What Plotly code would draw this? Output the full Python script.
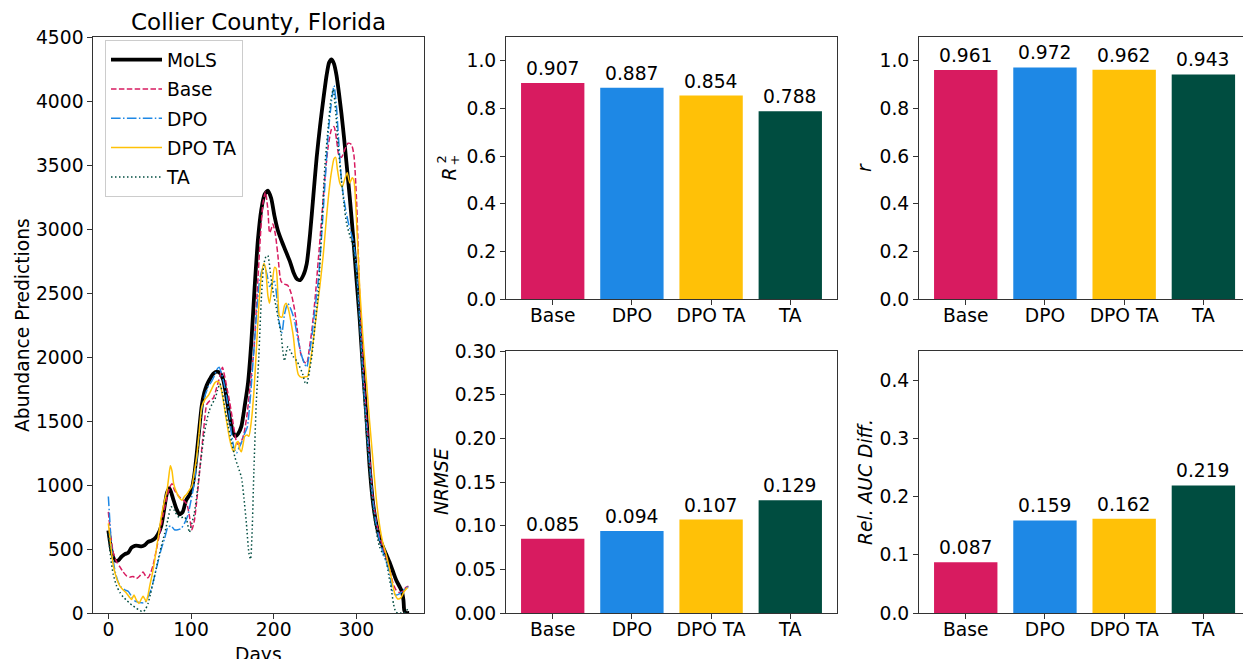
import plotly.graph_objects as go

W, H = 1243, 659
FONT = "DejaVu Sans"
FS = 18.7

# ---- Daily abundance predictions, Collier County ----
mols_days = [0, 4, 8, 12, 16, 20, 24, 28, 32, 36, 40, 44, 48, 52, 56, 60, 64, 68, 71, 74, 78, 82, 86, 90,
             94, 98, 101, 104, 107, 110, 113, 116, 119, 123, 127, 131, 135, 139, 143, 147, 151, 154, 157,
             161, 165, 169, 173, 177, 181, 185, 189, 193, 197, 201, 205, 210, 215, 220, 224, 228, 232, 236,
             240, 244, 248, 252, 256, 260, 264, 267, 270, 273, 276, 279, 282, 285, 288, 292, 296, 300, 304,
             308, 312, 316, 320, 324, 328, 332, 336, 340, 344, 348, 352, 355, 357, 358, 360, 364]
mols_vals = [645, 480, 410, 410, 440, 460, 470, 510, 525, 525, 520, 530, 555, 565, 580, 615, 680, 830, 940,
             975, 900, 820, 770, 790, 880, 920, 970, 1080, 1250, 1440, 1620, 1720, 1780, 1830, 1870, 1885,
             1875, 1820, 1680, 1520, 1410, 1380, 1400, 1460, 1620, 1800, 2120, 2550, 2920, 3150, 3270, 3300,
             3240, 3100, 2990, 2900, 2820, 2740, 2660, 2610, 2600, 2640, 2730, 2960, 3260, 3560, 3800, 4010,
             4200, 4300, 4325, 4290, 4200, 4060, 3900, 3720, 3520, 3250, 2950, 2620, 2300, 1900, 1550, 1150,
             870, 700, 590, 520, 460, 400, 330, 260, 210, 170, 100, 20, 0, 0]

base_days = [0, 3, 6, 10, 14, 18, 22, 26, 30, 34, 38, 42, 45, 48, 51, 54, 58, 62, 66, 70, 74, 77, 80, 83, 87,
             91, 95, 98, 101, 104, 107, 110, 113, 116, 119, 123, 127, 131, 135, 138, 141, 144, 147, 150, 153,
             156, 160, 164, 168, 172, 176, 180, 184, 187, 190, 193, 195, 197, 199, 202, 205, 209, 213, 217,
             221, 225, 229, 233, 237, 240, 243, 246, 250, 254, 258, 262, 266, 270, 273, 276, 279, 282, 286,
             290, 294, 297, 300, 304, 308, 312, 316, 320, 324, 328, 332, 336, 340, 344, 348, 352, 356, 360, 363]
base_vals = [790, 600, 470, 400, 360, 320, 290, 280, 285, 270, 290, 320, 290, 275, 310, 370, 490, 620, 760,
             880, 980, 1010, 960, 930, 900, 880, 850, 760, 650, 720, 880, 1080, 1280, 1480, 1630, 1660, 1680,
             1760, 1850, 1920, 1840, 1740, 1640, 1520, 1400, 1320, 1330, 1400, 1560, 1800, 2050, 2500, 2950,
             3200, 3290, 3150, 2970, 3000, 3040, 2960, 2800, 2590, 2570, 2560, 2500, 2380, 2190, 2020, 1960,
             1950, 2060, 2200, 2450, 2760, 3080, 3400, 3650, 3780, 3800, 3700, 3570, 3560, 3620, 3670, 3660,
             3580, 3260, 2500, 1950, 1550, 1220, 900, 720, 600, 520, 440, 350, 240, 180, 160, 170, 200, 210]

dpo_days = [0, 2, 4, 8, 12, 16, 20, 24, 28, 32, 36, 40, 44, 48, 52, 56, 60, 64, 68, 72, 76, 80, 84, 88, 92,
            96, 100, 104, 107, 110, 113, 117, 121, 125, 128, 131, 134, 137, 140, 143, 146, 149, 152, 155, 158,
            161, 164, 168, 172, 176, 180, 183, 186, 189, 192, 195, 198, 201, 204, 207, 210, 213, 217, 221,
            225, 229, 233, 237, 240, 243, 246, 250, 254, 258, 262, 266, 270, 273, 276, 279, 282, 285, 288,
            291, 294, 297, 300, 304, 308, 312, 316, 320, 324, 328, 332, 336, 340, 344, 348, 352, 356, 360, 363]
dpo_vals = [910, 700, 500, 330, 240, 200, 180, 170, 130, 95, 85, 80, 80, 125, 190, 290, 400, 500, 580, 670,
            680, 650, 650, 660, 700, 760, 880, 1020, 1200, 1400, 1590, 1700, 1770, 1810, 1850, 1900, 1920,
            1870, 1790, 1690, 1560, 1400, 1290, 1250, 1290, 1330, 1390, 1450, 1700, 2050, 2400, 2600, 2680,
            2710, 2640, 2550, 2580, 2590, 2450, 2260, 2190, 2330, 2420, 2370, 2290, 2150, 2030, 1950, 1920,
            2020, 2150, 2380, 2600, 2950, 3350, 3750, 4000, 4120, 3950, 3650, 3380, 3230, 3120, 3030, 2960,
            2880, 2700, 2300, 1850, 1480, 1160, 880, 690, 570, 480, 400, 320, 170, 140, 150, 170, 200, 200]

dpota_days = [0, 3, 6, 10, 14, 18, 22, 26, 28, 31, 34, 37, 40, 42, 44, 46, 48, 50, 53, 56, 60, 64, 68, 71,
              73, 75, 77, 79, 82, 86, 89, 92, 95, 98, 101, 104, 107, 110, 113, 117, 121, 125, 129, 132, 135,
              138, 141, 144, 147, 150, 152, 155, 157, 159, 161, 163, 165, 168, 170, 173, 176, 179, 182, 185,
              188, 190, 193, 195, 198, 201, 203, 205, 207, 210, 213, 215, 218, 221, 224, 227, 230, 234, 238,
              241, 244, 248, 252, 256, 260, 264, 267, 270, 273, 275, 277, 280, 283, 286, 289, 292, 295, 297,
              300, 304, 308, 312, 316, 320, 324, 328, 332, 336, 340, 344, 347, 350, 354, 358, 362]
dpota_vals = [700, 520, 370, 270, 210, 180, 155, 120, 105, 140, 100, 75, 110, 130, 110, 90, 140, 210, 300,
              410, 580, 750, 880, 960, 1060, 1150, 1110, 1010, 950, 900, 880, 910, 930, 960, 990, 1100, 1230,
              1420, 1610, 1670, 1700, 1750, 1800, 1810, 1790, 1700, 1580, 1460, 1350, 1280, 1260, 1330, 1340,
              1280, 1260, 1320, 1380, 1390, 1380, 1500, 1720, 2050, 2400, 2630, 2730, 2700, 2480, 2420, 2560,
              2700, 2690, 2500, 2320, 2310, 2400, 2420, 2370, 2270, 2150, 1960, 1860, 1840, 1845, 1850, 1950,
              2130, 2350, 2560, 2800, 3100, 3300, 3450, 3550, 3560, 3470, 3360, 3330, 3390, 3440, 3360, 3400,
              3380, 3100, 2550, 2150, 1830, 1500, 1200, 900, 690, 550, 460, 350, 220, 140, 110, 120, 170, 200]

ta_days = [0, 3, 6, 10, 14, 18, 22, 26, 30, 34, 38, 42, 45, 48, 51, 54, 57, 60, 64, 68, 72, 76, 80, 84, 88,
           92, 95, 98, 101, 104, 107, 110, 113, 116, 119, 122, 126, 129, 132, 135, 138, 141, 145, 149, 153,
           157, 161, 164, 167, 170, 172, 174, 176, 179, 182, 185, 188, 191, 193, 196, 199, 203, 206, 209, 211,
           213, 215, 217, 220, 224, 228, 231, 235, 238, 240, 243, 246, 250, 254, 258, 262, 266, 269, 272, 275,
           278, 282, 285, 288, 292, 296, 300, 304, 308, 312, 316, 320, 324, 328, 332, 336, 339, 342, 345, 348,
           352, 358, 363]
ta_vals = [620, 420, 300, 210, 160, 125, 100, 75, 55, 37, 20, 10, 30, 75, 150, 235, 320, 410, 520, 620, 730,
           830, 800, 755, 745, 750, 720, 630, 700, 780, 920, 1090, 1250, 1400, 1500, 1580, 1640, 1670, 1740,
           1790, 1720, 1600, 1460, 1340, 1220, 1140, 1060, 900, 700, 470, 420, 650, 1100, 1650, 2000, 2450,
           2720, 2790, 2790, 2660, 2520, 2390, 2280, 2180, 2050, 1970, 2030, 2080, 2050, 2000, 1970, 1930,
           1870, 1800, 1790, 1880, 2000, 2250, 2500, 3000, 3500, 3800, 4000, 4090, 3920, 3650, 3380, 3200,
           3050, 2950, 2860, 2650, 2250, 1800, 1420, 1100, 820, 640, 520, 460, 410, 300, 200, 70, 5, 0, 0, 40]

# ---- Summary metrics per model ----
models = ["Base", "DPO", "DPO TA", "TA"]
colors = ["#D81B60", "#1E88E5", "#FFC107", "#004D40"]
r2_plus = [0.907, 0.887, 0.854, 0.788]
pearson_r = [0.961, 0.972, 0.962, 0.943]
nrmse = [0.085, 0.094, 0.107, 0.129]
rel_auc_diff = [0.087, 0.159, 0.162, 0.219]


def px_x(p):
    return p / W


def px_y(p):
    return 1 - p / H


fig = go.Figure()

# Line panel
line_series = [
    ("MoLS", mols_days, mols_vals, "black", 3.8, "solid"),
    ("Base", base_days, base_vals, colors[0], 1.5, "5.5px,2.4px"),
    ("DPO", dpo_days, dpo_vals, colors[1], 1.5, "9.6px,2.4px,1.5px,2.4px"),
    ("DPO TA", dpota_days, dpota_vals, colors[2], 1.5, "solid"),
    ("TA", ta_days, ta_vals, colors[3], 1.5, "1.5px,2.5px"),
]
for name, xs, ys, col, lw, dash in line_series:
    fig.add_trace(go.Scatter(
        x=xs, y=ys, mode="lines", name=name, legendgroup=name,
        line=dict(color=col, width=lw, dash=dash, shape="spline", smoothing=0.6),
        xaxis="x", yaxis="y",
    ))

# Bar panels, each bar labelled with its value
bar_panels = [
    (r2_plus, "x2", "y2"),
    (pearson_r, "x3", "y3"),
    (nrmse, "x4", "y4"),
    (rel_auc_diff, "x5", "y5"),
]
for vals, xa, ya in bar_panels:
    xs = list(range(len(models)))
    fig.add_trace(go.Bar(
        x=xs, y=vals, width=0.8,
        marker=dict(color=colors, line=dict(width=0)),
        showlegend=False, xaxis=xa, yaxis=ya,
    ))
    for xi, v in zip(xs, vals):
        fig.add_annotation(
            text=f"{v:.3f}", x=xi, y=v, xref=xa, yref=ya,
            xanchor="center", yanchor="bottom", yshift=2, showarrow=False,
            font=dict(family=FONT, size=FS, color="black"),
        )

axis_common = dict(
    showline=True, linecolor="#333", linewidth=1, ticks="outside", ticklen=5,
    tickwidth=1, tickcolor="#333", showgrid=False, zeroline=False, automargin=False,
    tickfont=dict(family=FONT, size=FS, color="black"),
)
xaxis_common = dict(axis_common, ticklabelstandoff=-5)

dom_left = [px_x(93.3), px_x(424.3)]
dom_mid = [px_x(506), px_x(837)]
dom_right = [px_x(919), 1.0]
dom_top = [px_y(299), px_y(37)]
dom_bot = [px_y(613), px_y(351)]
dom_full = [px_y(613), px_y(37)]

cat_axis = dict(xaxis_common, tickvals=list(range(len(models))), ticktext=models)

fig.update_layout(
    width=W, height=H, margin=dict(l=0, r=0, t=0, b=0, autoexpand=False),
    paper_bgcolor="white", plot_bgcolor="white",
    font=dict(family=FONT, size=FS, color="black"),
    xaxis=dict(xaxis_common, domain=dom_left, range=[-18.2, 382.2], mirror=True,
               tickvals=[0, 100, 200, 300], anchor="y"),
    yaxis=dict(axis_common, domain=dom_full, range=[0, 4500], mirror=True,
               tickvals=list(range(0, 4501, 500)), anchor="x"),
    xaxis2=dict(cat_axis, domain=dom_mid, range=[-0.59, 3.59], mirror=True, anchor="y2"),
    yaxis2=dict(axis_common, domain=dom_top, range=[0, 1.1], mirror=True,
                tickvals=[0, 0.2, 0.4, 0.6, 0.8, 1.0], tickformat=".1f", anchor="x2"),
    xaxis3=dict(cat_axis, domain=dom_right, range=[-0.59, 3.50], mirror=True, anchor="y3"),
    yaxis3=dict(axis_common, domain=dom_top, range=[0, 1.1], mirror=False,
                tickvals=[0, 0.2, 0.4, 0.6, 0.8, 1.0], tickformat=".1f", anchor="x3"),
    xaxis4=dict(cat_axis, domain=dom_mid, range=[-0.59, 3.59], mirror=True, anchor="y4"),
    yaxis4=dict(axis_common, domain=dom_bot, range=[0, 0.3], mirror=True,
                tickvals=[0, 0.05, 0.1, 0.15, 0.2, 0.25, 0.3], tickformat=".2f", anchor="x4"),
    xaxis5=dict(cat_axis, domain=dom_right, range=[-0.59, 3.50], mirror=True, anchor="y5"),
    yaxis5=dict(axis_common, domain=dom_bot, range=[0, 0.45], mirror=False,
                tickvals=[0, 0.1, 0.2, 0.3, 0.4], tickformat=".1f", anchor="x5"),
    legend=dict(
        x=px_x(105), y=px_y(40), xanchor="left", yanchor="top",
        bgcolor="rgba(255,255,255,0.8)", bordercolor="#cccccc", borderwidth=1,
        font=dict(family=FONT, size=FS, color="black"), tracegroupgap=2, itemwidth=51,
    ),
    showlegend=True,
)


def label(text, x, y, size=FS, angle=0):
    fig.add_annotation(
        text=text, x=px_x(x), y=px_y(y), xref="paper", yref="paper",
        showarrow=False, textangle=angle, xanchor="center", yanchor="middle",
        font=dict(family=FONT, size=size, color="black"),
    )


label("Collier County, Florida", 258.8, 22, size=23)
label("Abundance Predictions", 22, 325, angle=-90)
label("Days", 258.8, 654)
# R^2_+ label, with stacked super/subscript
label("<i>R</i>", 449, 174.5, angle=-90)
label("2", 441.5, 160, size=13, angle=-90)
label("+", 454.5, 160, size=13, angle=-90)
label("<i>r</i>", 865, 168, angle=-90)
label("<i>NRMSE</i>", 441, 482, angle=-90)
label("<i>Rel. AUC Diff.</i>", 865, 482, angle=-90)

fig.write_html("out.html")
